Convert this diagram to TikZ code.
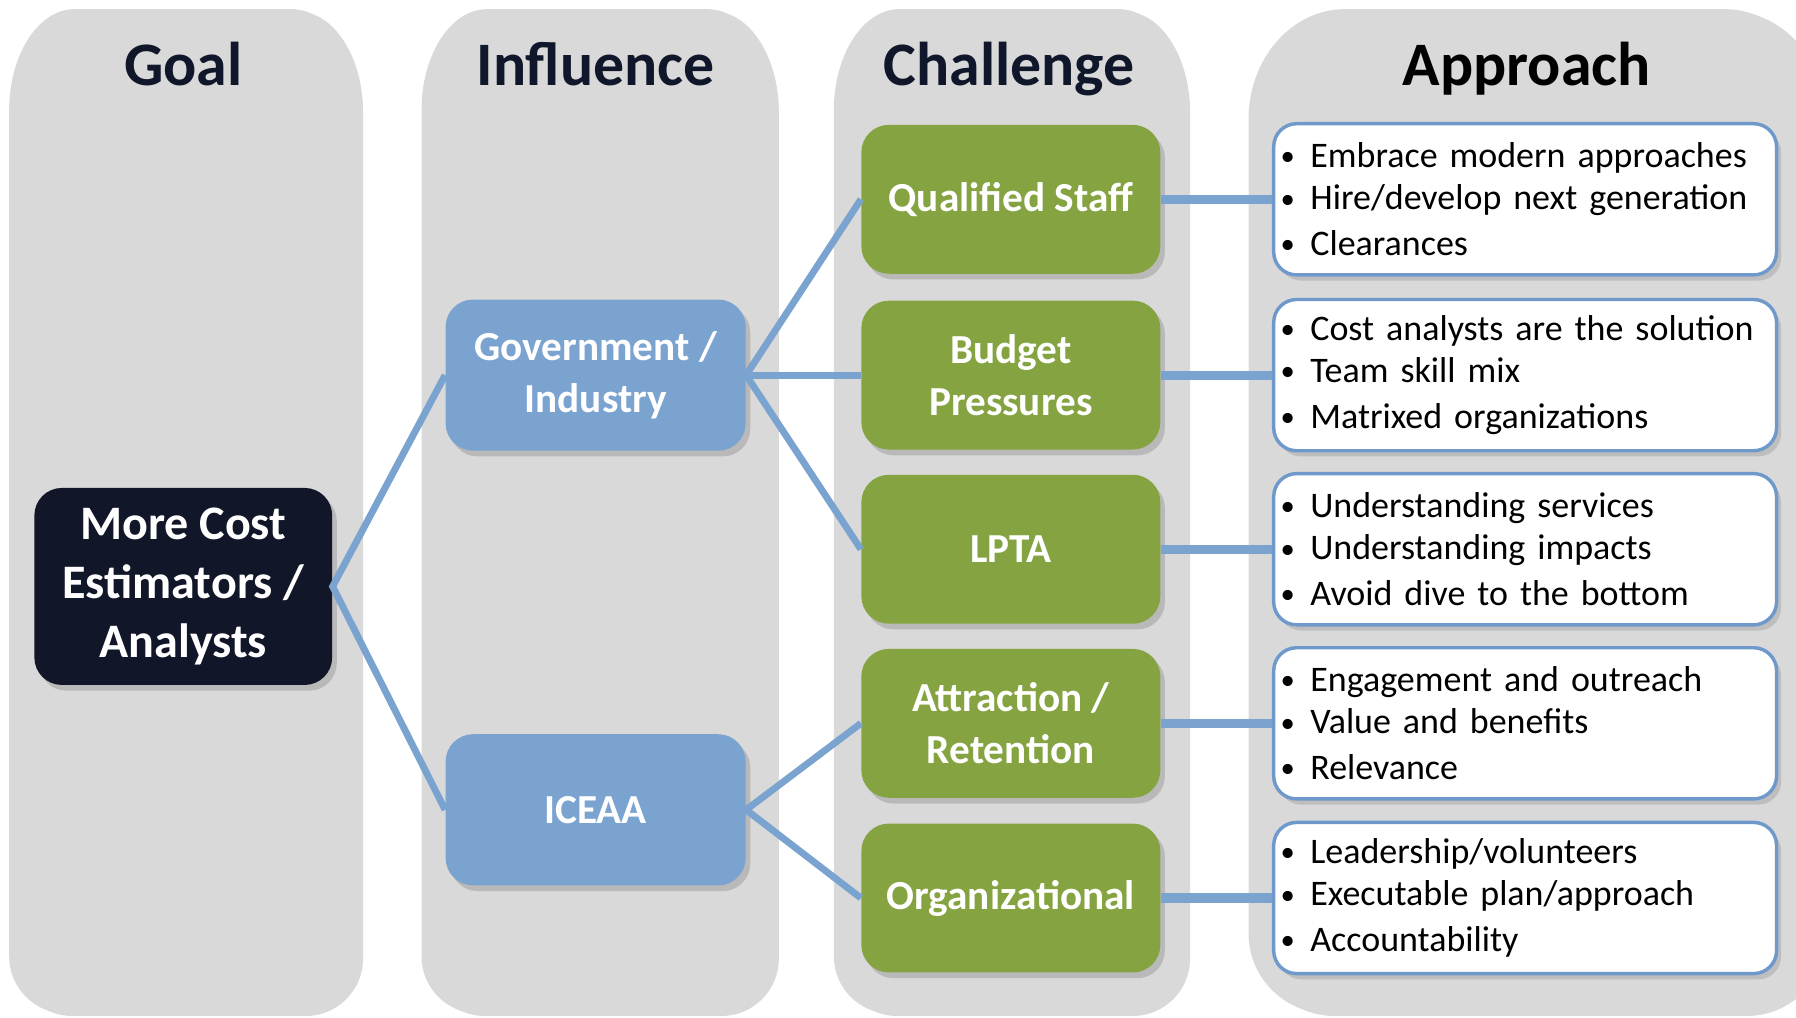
\documentclass[tikz,border=0pt]{standalone}
\usepackage{fontspec}
\setmainfont{Carlito}
\usetikzlibrary{shadows}

\definecolor{lanegrey}{HTML}{D9D9D9}
\definecolor{navy}{HTML}{111628}
\definecolor{headink}{HTML}{10172A}
\definecolor{inkblue}{HTML}{7BA3D0}
\definecolor{leafgreen}{HTML}{85A441}
\definecolor{rimblue}{HTML}{6F99CB}

% lane outline: left, right, top x radius, top y radius, bottom radius
\newcommand{\lanepath}[5]{(#1,8+#4) .. controls (#1,8+0.45*#4) and (#1+0.45*#3,8) .. (#1+#3,8)
  -- (#2-#3,8) .. controls (#2-0.45*#3,8) and (#2,8+0.45*#4) .. (#2,8+#4)
  -- (#2,885-#5) .. controls (#2,885-0.45*#5) and (#2-0.45*#5,885) .. (#2-#5,885)
  -- (#1+#5,885) .. controls (#1+0.45*#5,885) and (#1,885-0.45*#5) .. (#1,885-#5) -- cycle}
\newcommand{\bulletline}[1]{\makebox[13pt][l]{\raisebox{0.8pt}{\fontsize{12.5}{12.5}\selectfont\textbullet}}#1}

\tikzset{
  lane/.style={fill=lanegrey, drop shadow={shadow xshift=2.5pt, shadow yshift=-1pt, opacity=.3}},
  head/.style={anchor=base, text=headink, font=\fontsize{27}{30}\selectfont\bfseries},
  box/.style={rounded corners=12pt, text=white, align=center, inner sep=2pt,
    font=\fontsize{18}{22.5}\selectfont\bfseries,
    drop shadow={shadow xshift=2pt, shadow yshift=-2.5pt, opacity=.35}},
  goalbox/.style={box, fill=navy, minimum width=130pt, minimum height=86pt,
    font=\fontsize{21}{25.7}\selectfont\bfseries},
  influencebox/.style={box, fill=inkblue, minimum width=131pt, minimum height=66pt},
  challengebox/.style={box, fill=leafgreen, minimum width=130.5pt, minimum height=65pt},
  approachbox/.style={draw=rimblue, line width=1.5pt, fill=white, rounded corners=10pt,
    minimum width=219.5pt, minimum height=66pt, text width=213.5pt, inner xsep=3pt,
    align=left, font=\fontsize{15.7}{18.5}\selectfont,
    drop shadow={shadow xshift=2pt, shadow yshift=-2.5pt, opacity=.3}},
  link/.style={draw=inkblue, line width=3pt},
  bridge/.style={draw=inkblue, line width=4pt},
}

\begin{document}
\begin{tikzpicture}[x=0.5pt, y=-0.5pt]
\path[use as bounding box] (0,0) rectangle (1568,888);
\clip (0,0) rectangle (1568,888);

% lanes
\fill[lane] \lanepath{8}{312}{57}{88}{50};
\fill[lane] \lanepath{368}{675}{57}{88}{50};
\fill[lane] \lanepath{728}{1034}{57}{88}{50};
\fill[lane] \lanepath{1090}{1590}{84}{96}{70};

\node[head] (hgoal) at (160,75) {Goal};
\node[head] (hinfl) at (520,75) {Influence};
\node[head] (hchal) at (881,75) {Challenge};
\node[head, text=black] (happr) at (1333,75) {Approach};

% goal and influence
\node[goalbox] (goal) at (160,512) {More Cost\\Estimators /\\Analysts};
\node[influencebox] (gov) at (520,327.5) {Government /\\Industry};
\node[influencebox] (iceaa) at (520,707) {ICEAA};

% challenges
\node[challengebox] (staff) at (882.5,174) {Qualified Staff};
\node[challengebox] (budget) at (882.5,327.5) {Budget\\Pressures};
\node[challengebox] (lpta) at (882.5,479.5) {LPTA};
\node[challengebox] (attract) at (882.5,631.5) {Attraction /\\Retention};
\node[challengebox] (organ) at (882.5,784) {Organizational};

% approaches
\node[approachbox] (a1) at (1331.5,174) {\bulletline{Embrace modern approaches}\\
  \bulletline{Hire/develop next generation}\\[1.5pt]\bulletline{Clearances}};
\node[approachbox] (a2) at (1331.5,327.5) {\bulletline{Cost analysts are the solution}\\
  \bulletline{Team skill mix}\\[1.5pt]\bulletline{Matrixed organizations}};
\node[approachbox] (a3) at (1331.5,479.5) {\bulletline{Understanding services}\\
  \bulletline{Understanding impacts}\\[1.5pt]\bulletline{Avoid dive to the bottom}};
\node[approachbox] (a4) at (1331.5,631.5) {\bulletline{Engagement and outreach}\\
  \bulletline{Value and benefits}\\[1.5pt]\bulletline{Relevance}};
\node[approachbox] (a5) at (1331.5,784) {\bulletline{Leadership/volunteers}\\
  \bulletline{Executable plan/approach}\\[1.5pt]\bulletline{Accountability}};

% connectors
\draw[link] (gov.west) -- (goal.east) -- (iceaa.west);
\draw[link] (staff.west) -- (gov.east) -- (lpta.west);
\draw[link] (gov.east) -- (budget.west);
\draw[link] (attract.west) -- (iceaa.east) -- (organ.west);
\draw[bridge] (staff.east) -- (a1.west);
\draw[bridge] (budget.east) -- (a2.west);
\draw[bridge] (lpta.east) -- (a3.west);
\draw[bridge] (attract.east) -- (a4.west);
\draw[bridge] (organ.east) -- (a5.west);
\end{tikzpicture}
\end{document}
